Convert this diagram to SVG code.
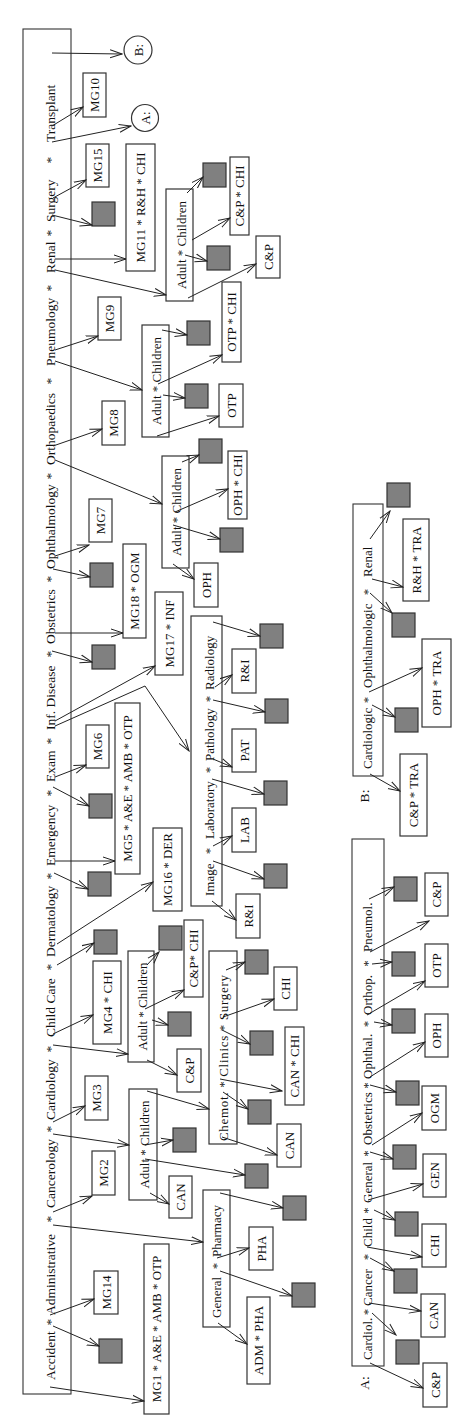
<svg xmlns="http://www.w3.org/2000/svg" width="474" height="1426" viewBox="0 0 474 1426">
<defs>
<marker id="ah" viewBox="0 0 13 10" refX="12" refY="5" markerWidth="13" markerHeight="10" markerUnits="userSpaceOnUse" orient="auto"><path d="M0,1 L12,5 L0,9" fill="none" stroke="#222" stroke-width="1"/></marker>
</defs>
<style>
text{font-family:"Liberation Serif","Times New Roman",serif;fill:#111}
.t{font-size:13px;text-anchor:middle}
.w{font-size:13.5px}
.s{font-size:13.5px;text-anchor:middle}
.v{font-size:13px}
.u{font-size:13px;text-anchor:middle}
.b{fill:#fff;stroke:#333;stroke-width:1.2}
.g{fill:#808080;stroke:#333;stroke-width:1.2}
.f{fill:none;stroke:#333;stroke-width:1.1}
.e{fill:none;stroke:#222;stroke-width:1;marker-end:url(#ah)}
</style>
<rect width="474" height="1426" fill="#fff"/>

<g id="frame-main">
<rect class="f" x="23" y="29" width="48" height="1365"/>
<text class="w" transform="translate(55,1380) rotate(-90)">Accident</text>
<text class="s" transform="translate(55,1322) rotate(-90)">*</text>
<text class="w" transform="translate(55,1315) rotate(-90)">Administrative</text>
<text class="s" transform="translate(55,1219) rotate(-90)">*</text>
<text class="w" transform="translate(55,1208) rotate(-90)">Cancerology</text>
<text class="s" transform="translate(55,1129) rotate(-90)">*</text>
<text class="w" transform="translate(55,1120) rotate(-90)">Cardiology</text>
<text class="s" transform="translate(55,1049) rotate(-90)">*</text>
<text class="w" transform="translate(55,1037) rotate(-90)">Child Care</text>
<text class="s" transform="translate(55,967) rotate(-90)">*</text>
<text class="w" transform="translate(55,957) rotate(-90)">Dermatology</text>
<text class="s" transform="translate(55,876) rotate(-90)">*</text>
<text class="w" transform="translate(55,866) rotate(-90)">Emergency</text>
<text class="s" transform="translate(55,793) rotate(-90)">*</text>
<text class="w" transform="translate(55,782) rotate(-90)">Exam</text>
<text class="s" transform="translate(55,741) rotate(-90)">*</text>
<text class="w" transform="translate(55,730) rotate(-90)">Inf. Disease</text>
<text class="s" transform="translate(55,654) rotate(-90)">*</text>
<text class="w" transform="translate(55,644) rotate(-90)">Obstetrics</text>
<text class="s" transform="translate(55,579) rotate(-90)">*</text>
<text class="w" transform="translate(55,569) rotate(-90)">Ophthalmology</text>
<text class="s" transform="translate(55,476) rotate(-90)">*</text>
<text class="w" transform="translate(55,465) rotate(-90)">Orthopaedics</text>
<text class="s" transform="translate(55,381) rotate(-90)">*</text>
<text class="w" transform="translate(55,366) rotate(-90)">Pneumology</text>
<text class="s" transform="translate(55,288) rotate(-90)">*</text>
<text class="w" transform="translate(55,273) rotate(-90)">Renal</text>
<text class="s" transform="translate(55,233) rotate(-90)">*</text>
<text class="w" transform="translate(55,222) rotate(-90)">Surgery</text>
<text class="s" transform="translate(55,160) rotate(-90)">*</text>
<text class="w" transform="translate(55,142) rotate(-90)">Transplant</text>
</g>

<g id="frame-A">
<rect class="f" x="352" y="839" width="32" height="527"/>
<text class="v" transform="translate(372,1360) rotate(-90)">Cardiol.</text>
<text class="u" transform="translate(372,1312) rotate(-90)">*</text>
<text class="v" transform="translate(372,1306) rotate(-90)">Cancer</text>
<text class="u" transform="translate(372,1257) rotate(-90)">*</text>
<text class="v" transform="translate(372,1247) rotate(-90)">Child</text>
<text class="u" transform="translate(372,1210.5) rotate(-90)">*</text>
<text class="v" transform="translate(372,1203) rotate(-90)">General</text>
<text class="u" transform="translate(372,1153.5) rotate(-90)">*</text>
<text class="v" transform="translate(372,1145) rotate(-90)">Obstetrics</text>
<text class="u" transform="translate(372,1085.5) rotate(-90)">*</text>
<text class="v" transform="translate(372,1079) rotate(-90)">Ophthal.</text>
<text class="u" transform="translate(372,1024) rotate(-90)">*</text>
<text class="v" transform="translate(372,1015) rotate(-90)">Orthop.</text>
<text class="u" transform="translate(372,963.5) rotate(-90)">*</text>
<text class="v" transform="translate(372,952) rotate(-90)">Pneumol.</text>
<text class="s" transform="translate(369,1383) rotate(-90)">A:</text>
</g>

<g id="frame-B">
<rect class="f" x="353" y="504" width="30" height="272"/>
<text class="v" transform="translate(372,769) rotate(-90)">Cardiologic</text>
<text class="u" transform="translate(372,700) rotate(-90)">*</text>
<text class="v" transform="translate(372,688) rotate(-90)">Ophthalmologic</text>
<text class="u" transform="translate(372,592) rotate(-90)">*</text>
<text class="v" transform="translate(372,577) rotate(-90)">Renal</text>
<text class="s" transform="translate(369,796) rotate(-90)">B:</text>
</g>

<g id="n-B"><circle class="b" cx="138" cy="50" r="14"/><text class="t" transform="translate(142.5,50) rotate(-90)">B:</text></g>
<g id="n-A"><circle class="b" cx="145" cy="118" r="13.5"/><text class="t" transform="translate(149.5,118) rotate(-90)">A:</text></g>

<g id="n-mg10"><rect class="b" x="83" y="73" width="23" height="44"/><text class="t" transform="translate(99,95) rotate(-90)">MG10</text></g>
<g id="n-mg15"><rect class="b" x="86" y="144" width="23" height="43"/><text class="t" transform="translate(102,165.5) rotate(-90)">MG15</text></g>
<g id="n-mg11"><rect class="b" x="126" y="144" width="29" height="127"/><text class="t" transform="translate(145,207.5) rotate(-90)">MG11 * R&amp;H * CHI</text></g>
<g id="n-ac1"><rect class="b" x="166" y="189" width="27" height="112"/><text class="t" transform="translate(185.5,245) rotate(-90)">Adult * Children</text></g>
<g id="n-cpchi1"><rect class="b" x="230" y="157" width="19" height="78"/><text class="t" transform="translate(244,196) rotate(-90)">C&amp;P * CHI</text></g>
<g id="n-cp1"><rect class="b" x="256" y="236" width="24" height="42"/><text class="t" transform="translate(272.5,257) rotate(-90)">C&amp;P</text></g>
<g id="n-mg9"><rect class="b" x="98" y="297" width="23" height="43"/><text class="t" transform="translate(114,318.5) rotate(-90)">MG9</text></g>
<g id="n-ac2"><rect class="b" x="142" y="325" width="27" height="112"/><text class="t" transform="translate(161,381) rotate(-90)">Adult * Children</text></g>
<g id="n-otpchi"><rect class="b" x="222" y="282" width="19" height="80"/><text class="t" transform="translate(236,322) rotate(-90)">OTP * CHI</text></g>
<g id="n-otp1"><rect class="b" x="219" y="384" width="24" height="43"/><text class="t" transform="translate(235.5,405.5) rotate(-90)">OTP</text></g>
<g id="n-mg8"><rect class="b" x="102" y="401" width="23" height="44"/><text class="t" transform="translate(118,423) rotate(-90)">MG8</text></g>
<g id="n-ac3"><rect class="b" x="162" y="456" width="27" height="112"/><text class="t" transform="translate(181,512) rotate(-90)">Adult * Children</text></g>
<g id="n-ophchi"><rect class="b" x="228" y="451" width="19" height="68"/><text class="t" transform="translate(242,485) rotate(-90)">OPH * CHI</text></g>
<g id="n-oph1"><rect class="b" x="194" y="563" width="24" height="44"/><text class="t" transform="translate(210.5,585) rotate(-90)">OPH</text></g>
<g id="n-mg7"><rect class="b" x="89" y="499" width="23" height="43"/><text class="t" transform="translate(105,520.5) rotate(-90)">MG7</text></g>
<g id="n-mg18"><rect class="b" x="123" y="544" width="23" height="94"/><text class="t" transform="translate(139,591) rotate(-90)">MG18 * OGM</text></g>
<g id="n-mg17"><rect class="b" x="155" y="592" width="28" height="83"/><text class="t" transform="translate(173.5,633.5) rotate(-90)">MG17 * INF</text></g>
<g id="n-image"><rect class="b" x="191" y="616" width="31" height="290"/>
<text class="v" transform="translate(214,896) rotate(-90)">Image</text>
<text class="u" transform="translate(214,851) rotate(-90)">*</text>
<text class="v" transform="translate(214,839) rotate(-90)">Laboratory</text>
<text class="u" transform="translate(214,770) rotate(-90)">*</text>
<text class="v" transform="translate(214,761) rotate(-90)">Pathology</text>
<text class="u" transform="translate(214,699) rotate(-90)">*</text>
<text class="v" transform="translate(214,690) rotate(-90)">Radiology</text></g>
<g id="n-ri1"><rect class="b" x="232" y="649" width="24" height="44"/><text class="t" transform="translate(248.5,671) rotate(-90)">R&amp;I</text></g>
<g id="n-pat"><rect class="b" x="232" y="729" width="24" height="43"/><text class="t" transform="translate(248.5,750.5) rotate(-90)">PAT</text></g>
<g id="n-lab"><rect class="b" x="232" y="808" width="24" height="44"/><text class="t" transform="translate(248.5,830) rotate(-90)">LAB</text></g>
<g id="n-ri2"><rect class="b" x="236" y="894" width="24" height="44"/><text class="t" transform="translate(252.5,916) rotate(-90)">R&amp;I</text></g>
<g id="n-mg6"><rect class="b" x="86" y="725" width="23" height="43"/><text class="t" transform="translate(102,746.5) rotate(-90)">MG6</text></g>
<g id="n-mg5"><rect class="b" x="115" y="703" width="25" height="171"/><text class="t" transform="translate(132,788.5) rotate(-90)">MG5 * A&amp;E * AMB * OTP</text></g>
<g id="n-mg16"><rect class="b" x="153" y="828" width="29" height="83"/><text class="t" transform="translate(172,869.5) rotate(-90)">MG16 * DER</text></g>
<g id="n-cpchi2"><rect class="b" x="184" y="920" width="19" height="77"/><text class="t" transform="translate(198,958.5) rotate(-90)">C&amp;P* CHI</text></g>
<g id="n-ac4"><rect class="b" x="128" y="951" width="26" height="111"/><text class="t" transform="translate(146.5,1006.5) rotate(-90)">Adult * Children</text></g>
<g id="n-mg4"><rect class="b" x="93" y="961" width="28" height="83"/><text class="t" transform="translate(111.5,1002.5) rotate(-90)">MG4 * CHI</text></g>
<g id="n-cp2"><rect class="b" x="177" y="1049" width="24" height="43"/><text class="t" transform="translate(193.5,1070.5) rotate(-90)">C&amp;P</text></g>
<g id="n-mg3"><rect class="b" x="85" y="1076" width="23" height="44"/><text class="t" transform="translate(101,1098) rotate(-90)">MG3</text></g>
<g id="n-ac5"><rect class="b" x="129" y="1089" width="28" height="111"/><text class="t" transform="translate(148.5,1144.5) rotate(-90)">Adult * Children</text></g>
<g id="n-chemot"><rect class="b" x="209" y="951" width="28" height="193"/>
<text class="t" transform="translate(227.5,1058) rotate(-90)" textLength="166" lengthAdjust="spacing">Chemot. * Clinics * Surgery</text></g>
<g id="n-can1"><rect class="b" x="169" y="1176" width="23" height="42"/><text class="t" transform="translate(185,1197) rotate(-90)">CAN</text></g>
<g id="n-chi1"><rect class="b" x="274" y="967" width="23" height="43"/><text class="t" transform="translate(290,988.5) rotate(-90)">CHI</text></g>
<g id="n-canchi"><rect class="b" x="285" y="1027" width="19" height="78"/><text class="t" transform="translate(299,1066) rotate(-90)">CAN * CHI</text></g>
<g id="n-can2"><rect class="b" x="277" y="1124" width="24" height="43"/><text class="t" transform="translate(293.5,1145.5) rotate(-90)">CAN</text></g>
<g id="n-mg2"><rect class="b" x="92" y="1151" width="23" height="44"/><text class="t" transform="translate(108,1173) rotate(-90)">MG2</text></g>
<g id="n-general"><rect class="b" x="203" y="1190" width="27" height="137"/>
<text class="v" transform="translate(221,1318) rotate(-90)">General</text>
<text class="u" transform="translate(221,1266) rotate(-90)">*</text>
<text class="v" transform="translate(221,1257) rotate(-90)">Pharmacy</text></g>
<g id="n-mg14"><rect class="b" x="94" y="1271" width="24" height="43"/><text class="t" transform="translate(110.5,1292.5) rotate(-90)">MG14</text></g>
<g id="n-mg1"><rect class="b" x="144" y="1244" width="25" height="170"/><text class="t" transform="translate(161,1329) rotate(-90)">MG1 * A&amp;E * AMB * OTP</text></g>
<g id="n-pha"><rect class="b" x="249" y="1227" width="24" height="43"/><text class="t" transform="translate(265.5,1248.5) rotate(-90)">PHA</text></g>
<g id="n-admpha"><rect class="b" x="247" y="1297" width="23" height="87"/><text class="t" transform="translate(263,1340.5) rotate(-90)">ADM * PHA</text></g>
<g id="n-a-cp"><rect class="b" x="423" y="1363" width="24" height="44"/><text class="t" transform="translate(439.5,1385) rotate(-90)">C&amp;P</text></g>
<g id="n-a-can"><rect class="b" x="421" y="1294" width="24" height="43"/><text class="t" transform="translate(437.5,1315.5) rotate(-90)">CAN</text></g>
<g id="n-a-chi"><rect class="b" x="422" y="1224" width="24" height="43"/><text class="t" transform="translate(438.5,1245.5) rotate(-90)">CHI</text></g>
<g id="n-a-gen"><rect class="b" x="423" y="1154" width="23" height="43"/><text class="t" transform="translate(439,1175.5) rotate(-90)">GEN</text></g>
<g id="n-a-ogm"><rect class="b" x="422" y="1086" width="24" height="44"/><text class="t" transform="translate(438.5,1108) rotate(-90)">OGM</text></g>
<g id="n-a-oph"><rect class="b" x="425" y="1014" width="23" height="43"/><text class="t" transform="translate(441,1035.5) rotate(-90)">OPH</text></g>
<g id="n-a-otp"><rect class="b" x="425" y="944" width="23" height="43"/><text class="t" transform="translate(441,965.5) rotate(-90)">OTP</text></g>
<g id="n-a-cp2"><rect class="b" x="425" y="873" width="23" height="43"/><text class="t" transform="translate(441,894.5) rotate(-90)">C&amp;P</text></g>
<g id="n-b-rh"><rect class="b" x="403" y="519" width="26" height="82"/><text class="t" transform="translate(420.5,560) rotate(-90)">R&amp;H * TRA</text></g>
<g id="n-b-oph"><rect class="b" x="422" y="639" width="29" height="88"/><text class="t" transform="translate(441,683) rotate(-90)">OPH * TRA</text></g>
<g id="n-b-cp"><rect class="b" x="400" y="754" width="27" height="82"/><text class="t" transform="translate(418,795) rotate(-90)">C&amp;P * TRA</text></g>

<g id="squares">
<rect id="sq1" class="g" x="92" y="202" width="23" height="24"/>
<rect id="sq2" class="g" x="203" y="163" width="23" height="24"/>
<rect id="sq3" class="g" x="207" y="246" width="23" height="24"/>
<rect id="sq4" class="g" x="187" y="321" width="23" height="24"/>
<rect id="sq5" class="g" x="185" y="384" width="23" height="24"/>
<rect id="sq6" class="g" x="199" y="439" width="23" height="24"/>
<rect id="sq7" class="g" x="220" y="528" width="23" height="24"/>
<rect id="sq8" class="g" x="90" y="563" width="23" height="24"/>
<rect id="sq9" class="g" x="92" y="645" width="23" height="24"/>
<rect id="sq10" class="g" x="260" y="624" width="23" height="24"/>
<rect id="sq11" class="g" x="265" y="699" width="23" height="24"/>
<rect id="sq12" class="g" x="264" y="781" width="23" height="24"/>
<rect id="sq13" class="g" x="264" y="864" width="23" height="24"/>
<rect id="sq14" class="g" x="89" y="794" width="23" height="24"/>
<rect id="sq15" class="g" x="88" y="872" width="23" height="24"/>
<rect id="sq16" class="g" x="94" y="930" width="23" height="24"/>
<rect id="sq17" class="g" x="159" y="926" width="23" height="24"/>
<rect id="sq18" class="g" x="168" y="1012" width="23" height="24"/>
<rect id="sq19" class="g" x="173" y="1128" width="23" height="24"/>
<rect id="sq20" class="g" x="245" y="1164" width="23" height="24"/>
<rect id="sq21" class="g" x="245" y="950" width="23" height="24"/>
<rect id="sq22" class="g" x="250" y="1031" width="23" height="24"/>
<rect id="sq23" class="g" x="248" y="1100" width="23" height="24"/>
<rect id="sq24" class="g" x="99" y="1339" width="23" height="24"/>
<rect id="sq25" class="g" x="283" y="1196" width="23" height="24"/>
<rect id="sq26" class="g" x="292" y="1283" width="23" height="24"/>
<rect id="sq27" class="g" x="396" y="1340" width="23" height="24"/>
<rect id="sq28" class="g" x="394" y="1269" width="23" height="24"/>
<rect id="sq29" class="g" x="395" y="1212" width="23" height="24"/>
<rect id="sq30" class="g" x="393" y="1145" width="23" height="24"/>
<rect id="sq31" class="g" x="396" y="1081" width="23" height="24"/>
<rect id="sq32" class="g" x="392" y="1009" width="23" height="24"/>
<rect id="sq33" class="g" x="392" y="952" width="23" height="24"/>
<rect id="sq34" class="g" x="394" y="877" width="23" height="24"/>
<rect id="sq35" class="g" x="387" y="483" width="23" height="24"/>
<rect id="sq36" class="g" x="392" y="613" width="23" height="24"/>
<rect id="sq37" class="g" x="395" y="708" width="23" height="24"/>
</g>

<g id="connectors">
<path class="e" d="M52,53 L122,54"/>
<path class="e" d="M52,126 L83,107"/>
<path class="e" d="M52,142 L131,126"/>
<path class="e" d="M53,198 L86,180"/>
<path class="e" d="M52,215 L92,225"/>
<path class="e" d="M55,259 L126,259"/>
<path class="e" d="M55,270 L166,295"/>
<path class="e" d="M187,193 L203,177"/>
<path class="e" d="M192,240 L230,218"/>
<path class="e" d="M185,255 L207,261"/>
<path class="e" d="M188,298 L256,264"/>
<path class="e" d="M55,350 L98,336"/>
<path class="e" d="M55,361 L142,390"/>
<path class="e" d="M162,330 L187,335"/>
<path class="e" d="M158,384 L222,355"/>
<path class="e" d="M163,395 L185,398"/>
<path class="e" d="M157,436 L219,416"/>
<path class="e" d="M53,446 L102,429"/>
<path class="e" d="M55,460 L162,504"/>
<path class="e" d="M182,462 L199,455"/>
<path class="e" d="M175,512 L228,489"/>
<path class="e" d="M173,525 L220,539"/>
<path class="e" d="M173,564 L194,579"/>
<path class="e" d="M55,556 L89,545"/>
<path class="e" d="M53,569 L90,577"/>
<path class="e" d="M55,633 L123,633"/>
<path class="e" d="M52,651 L92,662"/>
<path class="e" d="M55,721 L155,666"/>
<path class="e" d="M55,726 L145,686 L189,751"/>
<path class="e" d="M213,622 L260,636"/>
<path class="e" d="M215,687 L232,675"/>
<path class="e" d="M213,700 L265,712"/>
<path class="e" d="M213,759 L232,767"/>
<path class="e" d="M212,779 L264,794"/>
<path class="e" d="M213,846 L232,836"/>
<path class="e" d="M213,861 L264,879"/>
<path class="e" d="M212,901 L236,920"/>
<path class="e" d="M55,777 L86,765"/>
<path class="e" d="M53,787 L89,806"/>
<path class="e" d="M55,861 L115,861"/>
<path class="e" d="M54,873 L88,889"/>
<path class="e" d="M57,944 L153,882"/>
<path class="e" d="M57,965 L94,943"/>
<path class="e" d="M147,965 L159,952"/>
<path class="e" d="M145,1009 L184,990"/>
<path class="e" d="M53,1045 L128,1054"/>
<path class="e" d="M53,1034 L93,1015"/>
<path class="e" d="M152,1020 L168,1025"/>
<path class="e" d="M147,1060 L177,1075"/>
<path class="e" d="M53,1122 L85,1106"/>
<path class="e" d="M53,1134 L129,1145"/>
<path class="e" d="M147,1091 L209,1109"/>
<path class="e" d="M145,1145 L173,1140"/>
<path class="e" d="M145,1159 L245,1175"/>
<path class="e" d="M150,1193 L169,1204"/>
<path class="e" d="M226,970 L245,962"/>
<path class="e" d="M223,1017 L274,999"/>
<path class="e" d="M222,1030 L250,1044"/>
<path class="e" d="M220,1079 L282,1091"/>
<path class="e" d="M223,1092 L248,1109"/>
<path class="e" d="M222,1137 L277,1155"/>
<path class="e" d="M53,1212 L92,1196"/>
<path class="e" d="M53,1225 L203,1242"/>
<path class="e" d="M50,1315 L94,1299"/>
<path class="e" d="M53,1326 L99,1346"/>
<path class="e" d="M50,1387 L144,1401"/>
<path class="e" d="M220,1193 L283,1208"/>
<path class="e" d="M217,1258 L249,1248"/>
<path class="e" d="M220,1271 L292,1296"/>
<path class="e" d="M218,1323 L247,1344"/>
<path class="e" d="M370,1363 L423,1388"/>
<path class="e" d="M372,1313 L396,1335"/>
<path class="e" d="M369,1303 L421,1311"/>
<path class="e" d="M370,1258 L394,1271"/>
<path class="e" d="M367,1247 L422,1257"/>
<path class="e" d="M374,1210 L395,1220"/>
<path class="e" d="M368,1200 L423,1184"/>
<path class="e" d="M370,1152 L393,1159"/>
<path class="e" d="M372,1145 L422,1113"/>
<path class="e" d="M370,1085 L396,1092"/>
<path class="e" d="M370,1077 L425,1042"/>
<path class="e" d="M374,1022 L392,1025"/>
<path class="e" d="M367,1015 L425,981"/>
<path class="e" d="M372,964 L392,962"/>
<path class="e" d="M370,952 L429,921"/>
<path class="e" d="M369,899 L394,887"/>
<path class="e" d="M370,539 L390,511"/>
<path class="e" d="M372,579 L403,587"/>
<path class="e" d="M370,593 L392,613"/>
<path class="e" d="M369,692 L422,668"/>
<path class="e" d="M372,705 L395,717"/>
<path class="e" d="M370,774 L400,791"/>
</g>
</svg>
